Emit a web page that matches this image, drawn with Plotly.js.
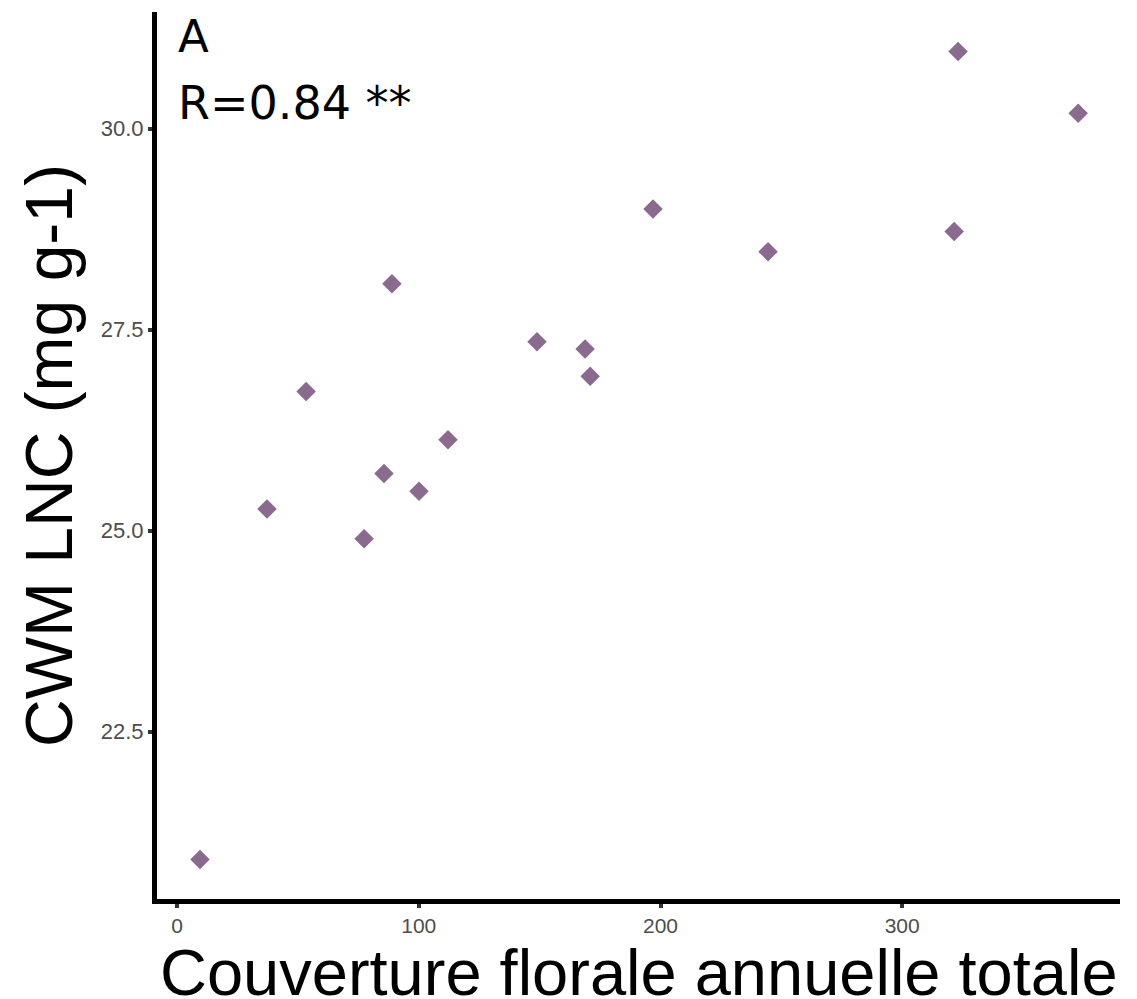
<!DOCTYPE html>
<html><head><meta charset="utf-8">
<script src="https://cdn.plot.ly/plotly-3.0.1.min.js"></script>
<style>html,body{margin:0;padding:0;background:#fff}#chart{width:1137px;height:999px}</style>
</head><body><div id="chart"></div>
<script>
const coverture = [9.5, 37.2, 53.4, 77.4, 85.6, 88.9, 100.1, 112.1, 148.9, 168.8, 170.9, 196.9, 244.5, 321.5, 323.1, 372.8];
const lnc = [20.91, 25.27, 26.73, 24.90, 25.71, 28.07, 25.49, 26.13, 27.35, 27.26, 26.92, 29.00, 28.47, 28.72, 30.96, 30.19];
const xTicks = [0, 100, 200, 300];
const yTicks = [22.5, 25.0, 27.5, 30.0];
const yTickText = ['22.5', '25.0', '27.5', '30.0'];
const xTitle = 'Couverture florale annuelle totale';
const yTitle = 'CWM LNC (mg g-1)';

const trace = {
  x: coverture, y: lnc, type: 'scatter', mode: 'markers',
  marker: {symbol: 'diamond', size: 15, color: '#8B6A8F'},
  hoverinfo: 'x+y'
};
const layout = {
  width: 1137, height: 999,
  margin: {l: 157, r: 17, t: 12, b: 100},
  paper_bgcolor: '#fff', plot_bgcolor: '#fff',
  showlegend: false,
  font: {family: 'Liberation Sans, Arial, sans-serif'},
  xaxis: {
    range: [-8.3, 390.1], tickvals: xTicks, ticktext: xTicks.map(String),
    showgrid: false, zeroline: false,
    showline: true, linecolor: '#000', linewidth: 5,
    ticks: 'outside', ticklen: 4, tickwidth: 4, tickcolor: '#333',
    tickfont: {size: 21, color: '#4d4d4d'}
  },
  yaxis: {
    range: [20.42, 31.45], tickvals: yTicks, ticktext: yTickText,
    showgrid: false, zeroline: false,
    showline: true, linecolor: '#000', linewidth: 5,
    ticks: 'outside', ticklen: 4, tickwidth: 4, tickcolor: '#333',
    tickfont: {size: 22, color: '#4d4d4d'},
    title: {text: yTitle, font: {size: 66, color: '#000'}, standoff: 8}
  },
  annotations: [
    {xref: 'paper', yref: 'paper', x: 0.5, y: -0.0823, xanchor: 'center', yanchor: 'middle',
     text: xTitle, showarrow: false, font: {size: 65, color: '#000'}},
    {xref: 'paper', yref: 'paper', x: 0.02, y: 1.005, xanchor: 'left', yanchor: 'top',
     text: 'A', showarrow: false, font: {family: 'DejaVu Sans', size: 45, color: '#000'}},
    {xref: 'paper', yref: 'paper', x: 0.02, y: 0.93, xanchor: 'left', yanchor: 'top',
     text: 'R=0.84 **', showarrow: false, font: {family: 'DejaVu Sans', size: 46, color: '#000'}}
  ]
};
Plotly.newPlot('chart', [trace], layout, {displayModeBar: false, staticPlot: true});
</script></body></html>
